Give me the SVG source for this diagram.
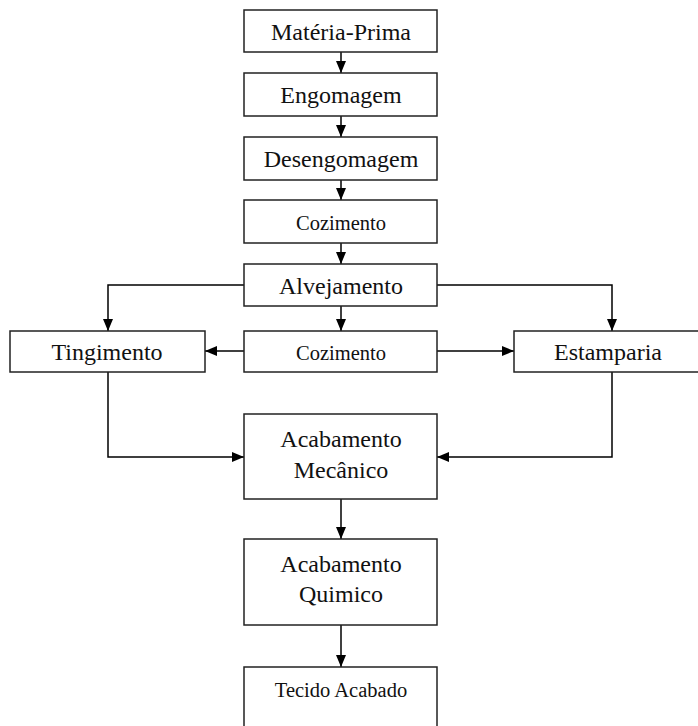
<svg xmlns="http://www.w3.org/2000/svg" width="698" height="726" viewBox="0 0 698 726">
<defs>
<marker id="ah" viewBox="0 0 12 10" refX="12" refY="5" markerWidth="12" markerHeight="10" markerUnits="userSpaceOnUse" orient="auto">
<path d="M0,0 L12,5 L0,10 Z" fill="#000"/>
</marker>
<style>
.box{fill:#fff;stroke:#222;stroke-width:1.5}
.t{font-family:"Liberation Serif","Times New Roman",serif;font-size:24px;fill:#111;text-anchor:middle}
.s{font-size:20.5px}
.c{fill:none;stroke:#000;stroke-width:1.5;marker-end:url(#ah)}
</style>
</defs>
<rect width="698" height="726" fill="#fff"/>
<g id="connectors">
<path class="c" d="M341,52 V73"/>
<path class="c" d="M341,116 V137"/>
<path class="c" d="M341,180 V200"/>
<path class="c" d="M341,243 V264"/>
<path class="c" d="M341,306 V331"/>
<path class="c" d="M244,285 H108 V331"/>
<path class="c" d="M437,285 H612 V331"/>
<path class="c" d="M244,351 H205"/>
<path class="c" d="M437,351 H514"/>
<path class="c" d="M108,372 V457 H244"/>
<path class="c" d="M612,372 V457 H437"/>
<path class="c" d="M341,499 V539"/>
<path class="c" d="M341,625 V667"/>
</g>
<g id="materia-prima"><rect class="box" x="244" y="10" width="193" height="42"/><text class="t" x="341" y="40">Matéria-Prima</text></g>
<g id="engomagem"><rect class="box" x="244" y="73" width="193" height="43"/><text class="t" x="341" y="103">Engomagem</text></g>
<g id="desengomagem"><rect class="box" x="244" y="137" width="193" height="43"/><text class="t" x="341" y="167">Desengomagem</text></g>
<g id="cozimento1"><rect class="box" x="244" y="200" width="193" height="43"/><text class="t s" x="341" y="230">Cozimento</text></g>
<g id="alvejamento"><rect class="box" x="244" y="264" width="193" height="42"/><text class="t" x="341" y="294">Alvejamento</text></g>
<g id="cozimento2"><rect class="box" x="244" y="331" width="193" height="41"/><text class="t s" x="341" y="360">Cozimento</text></g>
<g id="tingimento"><rect class="box" x="10" y="331" width="195" height="41"/><text class="t" x="107" y="360">Tingimento</text></g>
<g id="estamparia"><rect class="box" x="514" y="331" width="200" height="41"/><text class="t" x="608" y="360">Estamparia</text></g>
<g id="acabamento-mecanico"><rect class="box" x="244" y="414" width="193" height="85"/><text class="t" x="341" y="447">Acabamento</text><text class="t" x="341" y="478">Mecânico</text></g>
<g id="acabamento-quimico"><rect class="box" x="244" y="539" width="193" height="86"/><text class="t" x="341" y="572">Acabamento</text><text class="t" x="341" y="602">Quimico</text></g>
<g id="tecido-acabado"><rect class="box" x="244" y="667" width="193" height="80"/><text class="t s" x="341" y="697">Tecido Acabado</text></g>
</svg>
